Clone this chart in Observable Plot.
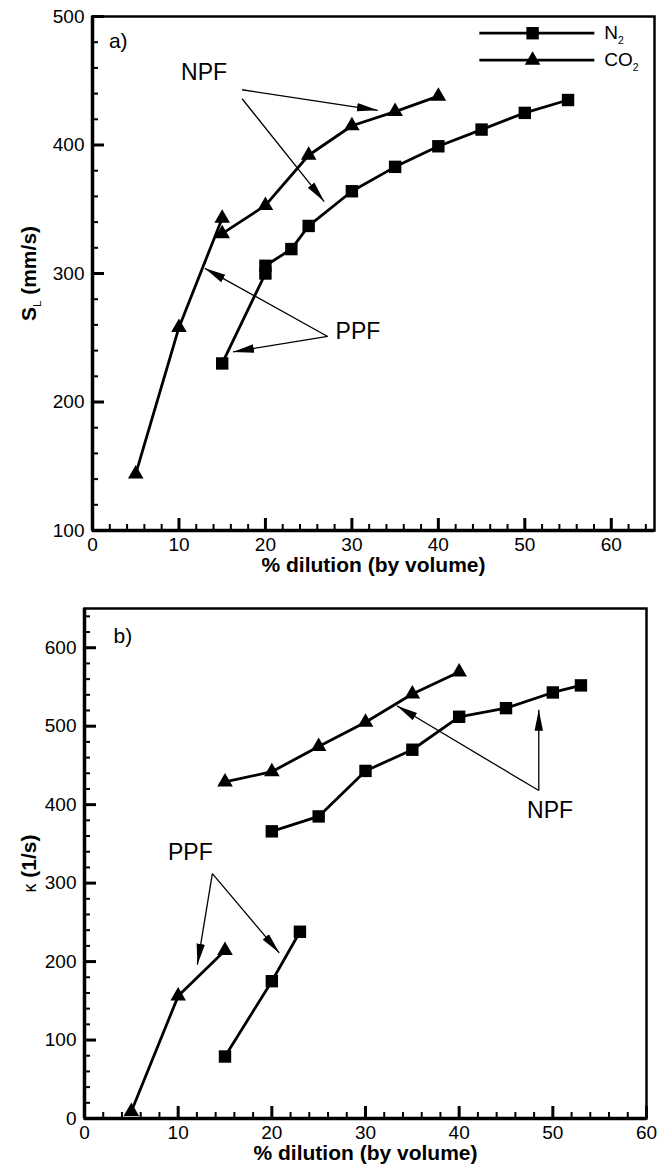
<!DOCTYPE html>
<html><head><meta charset="utf-8">
<script src="https://cdn.jsdelivr.net/npm/d3@7"></script>
<script src="https://cdn.jsdelivr.net/npm/@observablehq/plot@0.6"></script>
<style>body{margin:0;background:#fff;} svg{display:block;overflow:visible;}</style>
</head><body><div id="chart"></div>
<script>
// ---------- Panel a : laminar flame speed S_L (mm/s) ----------
const n2DilutionA = [15, 20, 20, 23, 25, 30, 35, 40, 45, 50, 55];
const n2SpeedA    = [230, 300, 306, 319, 337, 364, 383, 399, 412, 425, 435];
const n2BranchA   = ["PPF","PPF","NPF","NPF","NPF","NPF","NPF","NPF","NPF","NPF","NPF"];
const co2DilutionA = [5, 10, 15, 15, 20, 25, 30, 35, 40];
const co2SpeedA    = [144, 258, 343, 331, 353, 392, 415, 426, 438];
const co2BranchA   = ["PPF","PPF","PPF","NPF","NPF","NPF","NPF","NPF","NPF"];

// ---------- Panel b : extinction stretch rate kappa (1/s) ----------
const n2DilutionB = [15, 20, 23, 20, 25, 30, 35, 40, 45, 50, 53];
const n2StretchB  = [79, 175, 238, 366, 385, 443, 470, 512, 523, 543, 552];
const n2BranchB   = ["PPF","PPF","PPF","NPF","NPF","NPF","NPF","NPF","NPF","NPF","NPF"];
const co2DilutionB = [5, 10, 15, 15, 20, 25, 30, 35, 40];
const co2StretchB  = [9, 156, 214, 429, 442, 474, 505, 541, 569];
const co2BranchB   = ["PPF","PPF","PPF","NPF","NPF","NPF","NPF","NPF","NPF"];

// ---------- axes ----------
const xDomainA = [0, 65], yDomainA = [100, 500];
const xMajorA = [0, 10, 20, 30, 40, 50, 60];
const yMajorA = [100, 200, 300, 400, 500];
const xDomainB = [0, 60], yDomainB = [0, 650];
const xMajorB = [0, 10, 20, 30, 40, 50, 60];
const yMajorB = [0, 100, 200, 300, 400, 500, 600];
const xMinorStep = 2, yMinorStep = 20;

// ---------- annotations ----------
const annotTextA = [{label: "NPF", x: 12.9, y: 456}, {label: "PPF", x: 30.7, y: 255}];
const annotArrowsA = [
  {x1: 17.3, y1: 443, x2: 33.0, y2: 427},
  {x1: 17.3, y1: 436, x2: 26.8, y2: 356},
  {x1: 27.2, y1: 251, x2: 13.0, y2: 304},
  {x1: 27.2, y1: 251, x2: 16.25, y2: 239}
];
const annotTextB = [{label: "NPF", x: 49.7, y: 393}, {label: "PPF", x: 11.3, y: 339}];
const annotArrowsB = [
  {x1: 48.5, y1: 418, x2: 33.35, y2: 526},
  {x1: 48.5, y1: 418, x2: 48.5, y2: 521},
  {x1: 13.65, y1: 312, x2: 12.05, y2: 196},
  {x1: 13.65, y1: 312, x2: 20.8, y2: 211}
];
const panelLabelA = {label: "a)", x: 1.9, y: 481};
const panelLabelB = {label: "b)", x: 3.1, y: 615};

// legend (panel a)
const legendNames = ["N_2", "CO_2"];
const legendSymbols = ["square", "triangle"];
const legendY = [487, 466];
const legendX = {x1: 44.8, x2: 58.1, marker: 50.9, text: 59.2};

const xTitle = "% dilution (by volume)";
const yTitleA = "S_L (mm/s)";
const yTitleB = "κ (1/s)";

// ---------- helpers ----------
function rows(xs, ys, bs, gas) {
  return xs.map((x, i) => ({gas, branch: bs[i], x, y: ys[i], key: gas + bs[i]}));
}
function minor(domain, step, majors) {
  return d3.range(domain[0], domain[1] + 1e-9, step).filter(v => !majors.includes(v));
}
const FONT = "'Liberation Sans', Arial, Helvetica, sans-serif";
const SQUARE_R = 7, TRIANGLE_R = 5.8;

function panel(opts) {
  const {width, height, mt, mb, ml, mr, xDomain, yDomain, xMajor, yMajor, data, arrows, texts, plabel, yTitle, ytitleDx, legend} = opts;
  const pw = width - ml - mr, ph = height - mt - mb;
  const xMinor = minor(xDomain, xMinorStep, xMajor);
  const yMinor = minor(yDomain, yMinorStep, yMajor);
  const marks = [
    Plot.tickX(xMinor, {x: d => d, insetTop: ph - 6, strokeWidth: 2}),
    Plot.tickX(xMajor, {x: d => d, insetTop: ph - 12, strokeWidth: 3}),
    Plot.tickY(yMinor, {y: d => d, insetRight: pw - 6, strokeWidth: 2}),
    Plot.tickY(yMajor, {y: d => d, insetRight: pw - 12, strokeWidth: 3}),
    Plot.frame({strokeWidth: 2.5}),
    Plot.ruleX([xDomain[0]], {strokeWidth: 3.5}),
    Plot.ruleY([yDomain[0]], {strokeWidth: 3.5}),
    Plot.link(arrows, {x1: "x1", y1: "y1", x2: "x2", y2: "y2", strokeWidth: 1.3, markerEnd: "arrow"}),
    Plot.line(data, {x: "x", y: "y", z: "key", strokeWidth: 2.8}),
    Plot.dot(data.filter(d => d.gas === "N2"), {x: "x", y: "y", symbol: "square", r: SQUARE_R, fill: "black"}),
    Plot.dot(data.filter(d => d.gas === "CO2"), {x: "x", y: "y", symbol: "triangle", r: TRIANGLE_R, fill: "black"}),
    Plot.text(texts, {x: "x", y: "y", text: "label", fontSize: 23, textAnchor: "middle"}),
    Plot.text([plabel], {x: "x", y: "y", text: "label", fontSize: 21, textAnchor: "start"}),
    Plot.text([xTitle], {frameAnchor: "bottom", dy: 35, lineAnchor: "middle", fontWeight: "bold", fontSize: 21, textAnchor: "middle"}),
    Plot.text([yTitle], {frameAnchor: "left", dx: ytitleDx, lineAnchor: "middle", rotate: -90, fontWeight: "bold", fontSize: 21, textAnchor: "middle"})
  ];
  if (legend) {
    const lg = legendNames.map((name, i) => ({name, symbol: legendSymbols[i], y: legendY[i]}));
    marks.push(
      Plot.ruleY(lg, {y: "y", x1: legendX.x1, x2: legendX.x2, strokeWidth: 2.8}),
      Plot.dot(lg.filter(d => d.symbol === "square"), {x: legendX.marker, y: "y", symbol: "square", r: SQUARE_R, fill: "black"}),
      Plot.dot(lg.filter(d => d.symbol === "triangle"), {x: legendX.marker, y: "y", symbol: "triangle", r: TRIANGLE_R, fill: "black"}),
      Plot.text(lg, {x: legendX.text, y: "y", text: "name", fontSize: 19, textAnchor: "start"})
    );
  }
  const svg = Plot.plot({
    width, height, marginTop: mt, marginBottom: mb, marginLeft: ml, marginRight: mr,
    x: {domain: xDomain, ticks: xMajor, tickSize: 0, tickPadding: 7, label: null},
    y: {domain: yDomain, ticks: yMajor, tickSize: 0, tickPadding: 8, label: null},
    style: {fontFamily: FONT, fontSize: "19px", color: "black", background: "white"},
    marks
  });
  // filled, slender arrowheads
  svg.querySelectorAll("marker").forEach(m => {
    m.setAttribute("viewBox", "-21 -5 21 10");
    m.setAttribute("markerUnits", "userSpaceOnUse");
    m.setAttribute("markerWidth", "21");
    m.setAttribute("markerHeight", "10");
    m.setAttribute("refX", "0");
    m.setAttribute("refY", "0");
    m.setAttribute("fill", "black");
    m.setAttribute("stroke", "none");
    m.innerHTML = '<path d="M-21,-4.2L0,0L-21,4.2Z"></path>';
  });
  // subscripts and kappa
  const NS = "http://www.w3.org/2000/svg";
  svg.querySelectorAll("text").forEach(t => {
    const s = t.textContent;
    const m = s.match(/^(.*?)_(\S)(.*)$/);
    const k = s.match(/^κ(.*)$/);
    if (!m && !k) return;
    while (t.firstChild) t.removeChild(t.firstChild);
    const add = (str, attrs) => {
      const sp = document.createElementNS(NS, "tspan");
      sp.textContent = str;
      for (const a in attrs) sp.setAttribute(a, attrs[a]);
      t.appendChild(sp);
    };
    if (m) {
      add(m[1], {});
      add(m[2], {dy: "5", "font-size": "0.55em", "font-weight": "normal"});
      add(m[3], {dy: "-5"});
    } else {
      add("κ", {"font-weight": "normal", "font-size": "0.85em"});
      add(k[1], {});
    }
  });
  return svg;
}

const dataA = rows(n2DilutionA, n2SpeedA, n2BranchA, "N2").concat(rows(co2DilutionA, co2SpeedA, co2BranchA, "CO2"));
const dataB = rows(n2DilutionB, n2StretchB, n2BranchB, "N2").concat(rows(co2DilutionB, co2StretchB, co2BranchB, "CO2"));

const root = document.getElementById("chart");
root.appendChild(panel({
  width: 665, height: 580, mt: 16, mb: 50, ml: 92, mr: 11,
  xDomain: xDomainA, yDomain: yDomainA, xMajor: xMajorA, yMajor: yMajorA,
  data: dataA, arrows: annotArrowsA, texts: annotTextA, plabel: panelLabelA,
  yTitle: yTitleA, ytitleDx: -63, legend: true
}));
root.appendChild(panel({
  width: 665, height: 587, mt: 28, mb: 49, ml: 84, mr: 19,
  xDomain: xDomainB, yDomain: yDomainB, xMajor: xMajorB, yMajor: yMajorB,
  data: dataB, arrows: annotArrowsB, texts: annotTextB, plabel: panelLabelB,
  yTitle: yTitleB, ytitleDx: -55, legend: false
}));
</script></body></html>
